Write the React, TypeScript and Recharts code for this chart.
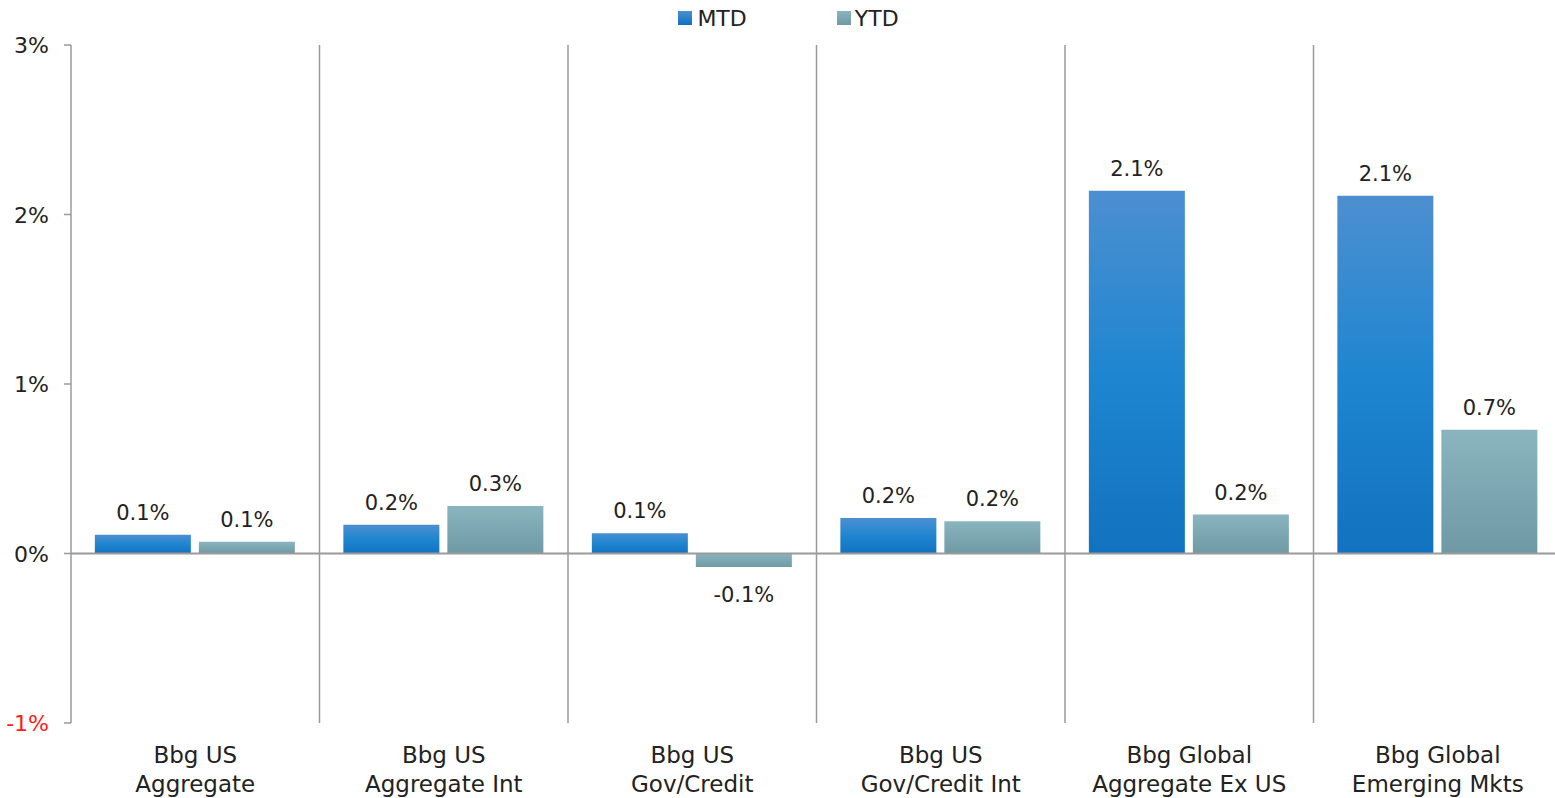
import { BarChart, Bar, XAxis, YAxis, CartesianGrid, Legend, ReferenceLine, LabelList } from "recharts";

const categories = [
  "Bbg US\nAggregate",
  "Bbg US\nAggregate Int",
  "Bbg US\nGov/Credit",
  "Bbg US\nGov/Credit Int",
  "Bbg Global\nAggregate Ex US",
  "Bbg Global\nEmerging Mkts",
];
const mtd = [0.11, 0.17, 0.12, 0.21, 2.14, 2.11];
const ytd = [0.07, 0.28, -0.08, 0.19, 0.23, 0.73];
const yTicks = [-1, 0, 1, 2, 3];

const data = categories.map((name, i) => ({ name, mtd: mtd[i], ytd: ytd[i] }));

const FONT = "'DejaVu Sans', sans-serif";

const YTick = (props: any) => {
  const { x, y, payload } = props;
  return (
    <text x={x - 13} y={y} dy={8} textAnchor="end" fontFamily={FONT} fontSize={22}
      fill={payload.value < 0 ? "#ff1a1a" : "#222"}>
      {`${payload.value}%`}
    </text>
  );
};

const XTick = (props: any) => {
  const { x, y, payload } = props;
  const lines = String(payload.value).split("\n");
  return (
    <text x={x} y={y + 32} textAnchor="middle" fontFamily={FONT} fontSize={23} fill="#222">
      {lines.map((l, i) => (
        <tspan key={i} x={x} dy={i === 0 ? 0 : 29}>{l}</tspan>
      ))}
    </text>
  );
};

const LegendBox = () => (
  <div style={{ display: "flex", justifyContent: "center", gap: 90, fontFamily: FONT, fontSize: 22, color: "#222", height: 36, alignItems: "center" }}>
    <div style={{ display: "flex", alignItems: "center", gap: 5 }}>
      <span style={{ width: 14, height: 14, background: "linear-gradient(#4a90d0,#1070c0)", display: "inline-block" }} />
      MTD
    </div>
    <div style={{ display: "flex", alignItems: "center", gap: 4 }}>
      <span style={{ width: 14, height: 14, background: "linear-gradient(#8ab4be,#6f9aa5)", display: "inline-block" }} />
      YTD
    </div>
  </div>
);

const ValueLabel = (props: any) => {
  const { x, y, width, height, value } = props;
  const top = Math.min(y, y + height);
  const bottom = Math.max(y, y + height);
  const ty = value < 0 ? bottom + 35 : top - 15;
  return (
    <text x={x + width / 2} y={ty} textAnchor="middle" fontFamily={FONT} fontSize={21} fill="#222">
      {`${Number(value).toFixed(1)}%`}
    </text>
  );
};

export default function App() {
  return (
    <div style={{ position: "absolute", left: 0, top: 0, width: 1555, height: 798, overflow: "hidden", background: "#fff" }}>
      <BarChart width={1565} height={798} data={data}
        margin={{ top: 9, right: 3, left: 0, bottom: 0 }}
        barCategoryGap="9.6%" barGap={8}>
        <defs>
          <linearGradient id="gMtd" x1="0" y1="0" x2="0" y2="1">
            <stop offset="0%" stopColor="#4d8fd1" />
            <stop offset="50%" stopColor="#1e86d0" />
            <stop offset="100%" stopColor="#1272c0" />
          </linearGradient>
          <linearGradient id="gYtd" x1="0" y1="0" x2="0" y2="1">
            <stop offset="0%" stopColor="#8ab4be" />
            <stop offset="100%" stopColor="#6f9aa5" />
          </linearGradient>
        </defs>
        <Legend verticalAlign="top" align="center" content={<LegendBox />} wrapperStyle={{ left: 0, top: 0, width: 1577 }} />
        <CartesianGrid horizontal={false} stroke="#9a9a9a" strokeWidth={1.5}
          verticalCoordinatesGenerator={({ offset }: any) =>
            categories.slice(1).map((_, i) => offset.left + ((i + 1) * offset.width) / categories.length)} />
        <XAxis dataKey="name" interval={0} axisLine={false} tickLine={false} height={75} tick={<XTick />} />
        <YAxis domain={[-1, 3]} ticks={yTicks} width={71} tickSize={7} tickLine={{ stroke: "#9a9a9a", strokeWidth: 1.5 }}
          axisLine={{ stroke: "#9a9a9a", strokeWidth: 1.5 }} tick={<YTick />} />
        <ReferenceLine y={0} stroke="#9a9a9a" strokeWidth={2} />
        <Bar dataKey="mtd" fill="url(#gMtd)" isAnimationActive={false}>
          <LabelList dataKey="mtd" content={<ValueLabel />} />
        </Bar>
        <Bar dataKey="ytd" fill="url(#gYtd)" isAnimationActive={false}>
          <LabelList dataKey="ytd" content={<ValueLabel />} />
        </Bar>
      </BarChart>
    </div>
  );
}
